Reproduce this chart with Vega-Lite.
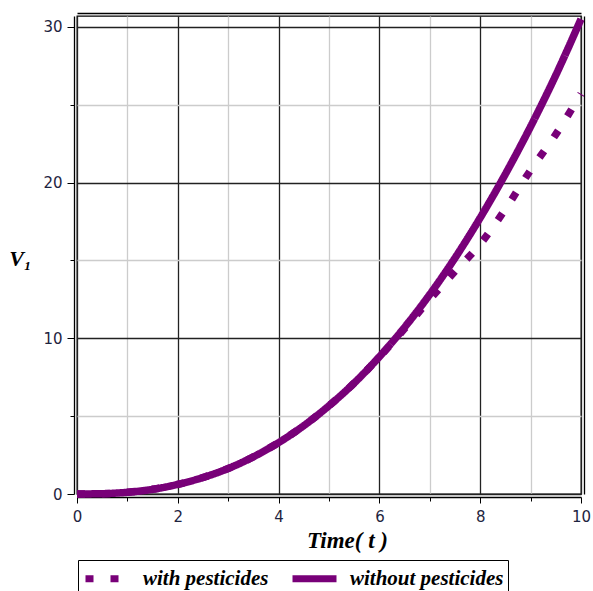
{
  "$schema": "https://vega.github.io/schema/vega-lite/v6.json",
  "autosize": {"type": "none"},
  "width": 504,
  "height": 478,
  "padding": {"left": 77, "top": 16, "right": 12, "bottom": 97},
  "background": "white",
  "config": {
    "view": {"stroke": "black", "strokeWidth": 1.3},
    "axis": {
      "domainColor": "black",
      "domainWidth": 1.3,
      "tickColor": "black",
      "labelFont": "DejaVu Sans",
      "labelFontSize": 15,
      "labelColor": "#1e2440",
      "labelFlush": false,
      "labelOverlap": false,
      "titleFont": "Liberation Serif",
      "titleFontStyle": "italic",
      "titleFontWeight": "bold",
      "titleColor": "black"
    },
    "legend": {
      "title": null,
      "orient": "none",
      "legendX": 1,
      "legendY": 544,
      "direction": "horizontal",
      "strokeColor": "black",
      "padding": 4,
      "symbolType": "M-1,0H3",
      "symbolSize": 484,
      "symbolStrokeWidth": 7,
      "labelFont": "Liberation Serif",
      "labelFontStyle": "italic",
      "labelFontWeight": "bold",
      "labelFontSize": 21,
      "labelColor": "black",
      "labelOffset": 32,
      "columnPadding": 9,
      "labelLimit": 300
    }
  },
  "data": {
    "values": [
      {"t": 0, "v": 0, "s": "without pesticides"},
      {"t": 0.5, "v": 0.02, "s": "without pesticides"},
      {"t": 1, "v": 0.11, "s": "without pesticides"},
      {"t": 1.5, "v": 0.3, "s": "without pesticides"},
      {"t": 2, "v": 0.62, "s": "without pesticides"},
      {"t": 2.5, "v": 1.06, "s": "without pesticides"},
      {"t": 3, "v": 1.64, "s": "without pesticides"},
      {"t": 3.5, "v": 2.39, "s": "without pesticides"},
      {"t": 4, "v": 3.3, "s": "without pesticides"},
      {"t": 4.5, "v": 4.39, "s": "without pesticides"},
      {"t": 5, "v": 5.67, "s": "without pesticides"},
      {"t": 5.5, "v": 7.13, "s": "without pesticides"},
      {"t": 6, "v": 8.82, "s": "without pesticides"},
      {"t": 6.5, "v": 10.71, "s": "without pesticides"},
      {"t": 7, "v": 12.82, "s": "without pesticides"},
      {"t": 7.5, "v": 15.16, "s": "without pesticides"},
      {"t": 8, "v": 17.74, "s": "without pesticides"},
      {"t": 8.5, "v": 20.55, "s": "without pesticides"},
      {"t": 9, "v": 23.6, "s": "without pesticides"},
      {"t": 9.5, "v": 26.9, "s": "without pesticides"},
      {"t": 10, "v": 30.5, "s": "without pesticides"},
      {"t": 0, "v": 0, "s": "with pesticides"},
      {"t": 0.5, "v": 0.02, "s": "with pesticides"},
      {"t": 1, "v": 0.11, "s": "with pesticides"},
      {"t": 1.5, "v": 0.3, "s": "with pesticides"},
      {"t": 2, "v": 0.62, "s": "with pesticides"},
      {"t": 2.5, "v": 1.06, "s": "with pesticides"},
      {"t": 3, "v": 1.64, "s": "with pesticides"},
      {"t": 3.5, "v": 2.39, "s": "with pesticides"},
      {"t": 4, "v": 3.3, "s": "with pesticides"},
      {"t": 4.5, "v": 4.39, "s": "with pesticides"},
      {"t": 5, "v": 5.67, "s": "with pesticides"},
      {"t": 5.5, "v": 7.13, "s": "with pesticides"},
      {"t": 6, "v": 8.8, "s": "with pesticides"},
      {"t": 6.5, "v": 10.62, "s": "with pesticides"},
      {"t": 7, "v": 12.5, "s": "with pesticides"},
      {"t": 7.5, "v": 14.3, "s": "with pesticides"},
      {"t": 8, "v": 16.05, "s": "with pesticides"},
      {"t": 8.5, "v": 18.3, "s": "with pesticides"},
      {"t": 9, "v": 20.8, "s": "with pesticides"},
      {"t": 9.5, "v": 23.1, "s": "with pesticides"},
      {"t": 10, "v": 25.7, "s": "with pesticides"}
    ]
  },
  "encoding": {
    "color": {
      "field": "s", "type": "nominal",
      "scale": {"domain": ["with pesticides", "without pesticides"], "range": ["#780078", "#780078"]}
    },
    "strokeDash": {
      "field": "s", "type": "nominal",
      "scale": {"domain": ["with pesticides", "without pesticides"], "range": [[8, 17], [1, 0]]}
    }
  },
  "layer": [
    {
      "transform": [{"filter": "datum.s === 'without pesticides'"}],
      "mark": {"type": "line", "strokeWidth": 7.5, "interpolate": "monotone", "strokeCap": "butt"},
      "encoding": {
        "x": {
          "field": "t", "type": "quantitative",
          "scale": {"domain": [0, 10], "nice": false},
          "axis": {
            "orient": "bottom",
            "offset": 3,
            "values": [0, 1, 2, 3, 4, 5, 6, 7, 8, 9, 10],
            "labelExpr": "datum.value % 2 === 0 ? datum.label : ''",
            "gridColor": {"condition": {"test": "datum.value % 2 === 0", "value": "#222222"}, "value": "#cccccc"},
            "gridWidth": 1.3,
            "tickSize": {"condition": {"test": "datum.value % 2 === 0", "value": 6}, "value": 4},
            "labelPadding": 6,
            "title": "Time( t )",
            "titleFontSize": 23,
            "titleX": 270,
            "titleY": 43,
            "titleAlign": "center",
            "titleBaseline": "middle"
          }
        },
        "y": {
          "field": "v", "type": "quantitative",
          "scale": {"domain": [0, 30.7], "nice": false},
          "axis": {
            "orient": "left",
            "offset": 3,
            "values": [0, 5, 10, 15, 20, 25, 30],
            "labelExpr": "datum.value % 10 === 0 ? datum.label : ''",
            "gridColor": {"condition": {"test": "datum.value % 10 === 0", "value": "#222222"}, "value": "#cccccc"},
            "gridWidth": 1.3,
            "tickSize": {"condition": {"test": "datum.value % 10 === 0", "value": 7}, "value": 4},
            "labelPadding": 5,
            "title": "V₁",
            "titleFontSize": 22,
            "titleAngle": 0,
            "titleX": -54,
            "titleY": 242,
            "titleAlign": "center",
            "titleBaseline": "middle"
          }
        }
      }
    },
    {
      "transform": [{"filter": "datum.s === 'with pesticides'"}],
      "mark": {"type": "line", "strokeWidth": 7.5, "interpolate": "monotone", "strokeCap": "butt"},
      "encoding": {
        "x": {
          "field": "t", "type": "quantitative",
          "scale": {"domain": [0, 10], "nice": false},
          "axis": {
            "orient": "top",
            "offset": 3,
            "labels": false,
            "ticks": false,
            "grid": false,
            "title": null
          }
        },
        "y": {
          "field": "v", "type": "quantitative",
          "scale": {"domain": [0, 30.7], "nice": false},
          "axis": {
            "orient": "right",
            "offset": 3,
            "labels": false,
            "ticks": false,
            "grid": false,
            "title": null
          }
        }
      }
    }
  ],
  "resolve": {"axis": {"x": "independent", "y": "independent"}}
}
